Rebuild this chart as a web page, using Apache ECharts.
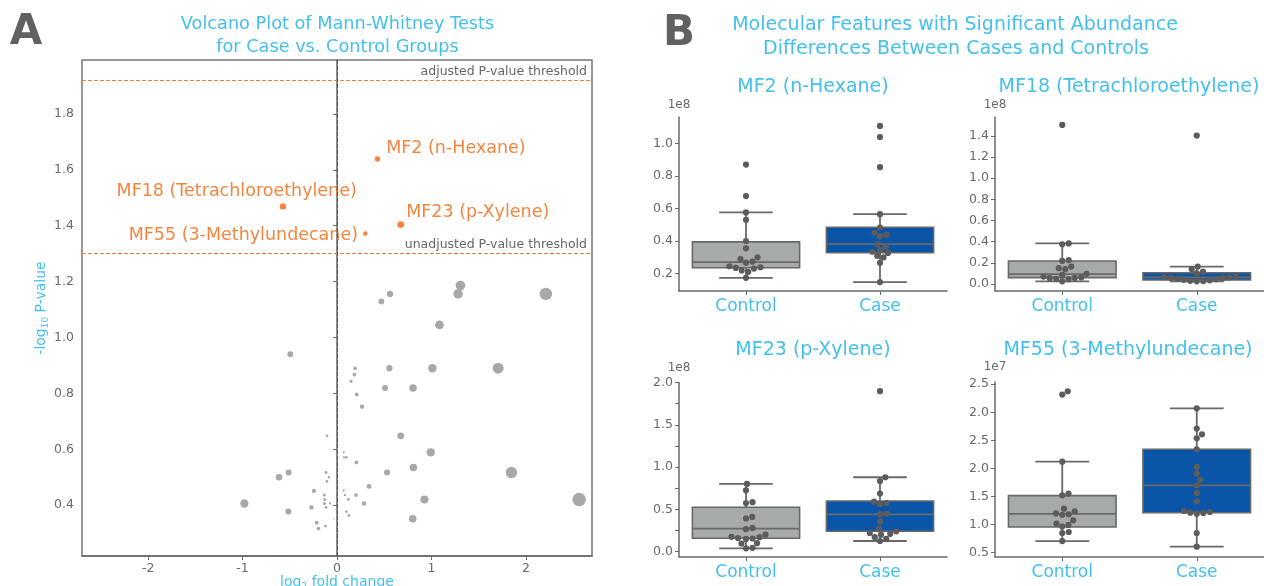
<!DOCTYPE html>
<html><head><meta charset="utf-8">
<script src="https://cdn.jsdelivr.net/npm/echarts@6/dist/echarts.min.js"></script>
<style>html,body{margin:0;padding:0;background:#fff}#c{width:1264px;height:586px}</style>
</head><body><div id="c"></div>
<script>
// ---------------- DATA ----------------
// Volcano plot: log2 fold change (x) and -log10 P-value (y)
const grayFC = [1.307,1.282,0.561,0.470,2.211,1.085,-0.494,0.191,0.184,0.148,0.555,1.010,1.706,0.509,0.805,0.209,0.265,0.675,-0.106,0.993,0.071,0.074,0.099,0.205,0.809,0.530,1.847,-0.512,-0.614,-0.116,-0.085,-0.106,0.339,-0.244,0.071,0.085,0.201,-0.134,-0.130,0.121,0.926,2.564,-0.981,-0.134,-0.074,0.286,-0.271,-0.116,-0.515,0.099,0.127,0.802,-0.028,-0.215,-0.123,-0.197,0.018];
const grayP  = [1.186,1.156,1.156,1.129,1.156,1.045,0.940,0.890,0.867,0.843,0.890,0.890,0.890,0.819,0.819,0.796,0.752,0.648,0.648,0.589,0.589,0.571,0.571,0.553,0.535,0.517,0.517,0.517,0.500,0.517,0.500,0.485,0.467,0.451,0.452,0.436,0.436,0.436,0.420,0.420,0.420,0.420,0.406,0.406,0.406,0.406,0.392,0.392,0.377,0.377,0.363,0.351,0.351,0.337,0.325,0.316,0.304];
const sigNames = ['MF2 (n-Hexane)','MF18 (Tetrachloroethylene)','MF23 (p-Xylene)','MF55 (3-Methylundecane)'];
const sigFC = [0.428,-0.572,0.675,0.300];
const sigP  = [1.639,1.469,1.404,1.372];
const pAdjThreshold = 1.92;
const pUnadjThreshold = 1.301;
const volcanoXTicks = [-2,-1,0,1,2];
const volcanoYTicks = [0.4,0.6,0.8,1.0,1.2,1.4,1.6,1.8];

// Box plots
const groups = ['Control','Case'];
// MF2 (x1e8)
const mf2Control = [0.871,0.677,0.577,0.531,0.401,0.356,0.301,0.290,0.275,0.268,0.246,0.240,0.236,0.232,0.220,0.212,0.175];
const mf2Case    = [1.108,1.040,0.855,0.566,0.484,0.452,0.440,0.430,0.382,0.366,0.345,0.335,0.328,0.310,0.300,0.267,0.149];
const mf2BoxControl = [0.175,0.237,0.272,0.396,0.577];
const mf2BoxCase    = [0.149,0.329,0.382,0.486,0.566];
const mf2Ticks = [0.2,0.4,0.6,0.8,1.0];
// MF18 (x1e8)
const mf18Control = [1.504,0.384,0.376,0.226,0.219,0.165,0.150,0.140,0.097,0.086,0.070,0.062,0.058,0.055,0.050,0.044,0.025];
const mf18Case    = [1.403,0.165,0.140,0.118,0.100,0.070,0.066,0.062,0.058,0.055,0.050,0.045,0.040,0.035,0.030,0.028,0.025];
const mf18BoxControl = [0.025,0.060,0.094,0.217,0.384];
const mf18BoxCase    = [0.025,0.038,0.063,0.107,0.164];
const mf18Ticks = [0.0,0.2,0.4,0.6,0.8,1.0,1.2,1.4];
// MF23 (x1e8)
const mf23Control = [0.800,0.725,0.585,0.575,0.410,0.392,0.280,0.265,0.200,0.175,0.170,0.160,0.155,0.150,0.100,0.095,0.045,0.039];
const mf23Case    = [1.897,0.879,0.835,0.686,0.590,0.575,0.560,0.450,0.440,0.355,0.272,0.240,0.220,0.210,0.200,0.170,0.150,0.125];
const mf23BoxControl = [0.039,0.158,0.272,0.525,0.800];
const mf23BoxCase    = [0.125,0.240,0.441,0.599,0.879];
const mf23Ticks = [0.0,0.5,1.0,1.5,2.0];
const mf23MinorTicks = [0.0,0.25,0.5,0.75,1.0,1.25,1.5,1.75,2.0];
// MF55 (x1e7) - values in axis units, tick labels as printed
const mf55Control = [3.375,3.315,2.119,1.548,1.518,1.280,1.230,1.195,1.180,1.170,1.071,1.012,0.990,0.960,0.863,0.845,0.702];
const mf55Case    = [3.071,2.708,2.607,2.536,2.339,2.024,1.905,1.792,1.696,1.560,1.411,1.238,1.220,1.208,1.200,1.190,0.845,0.601];
const mf55BoxControl = [0.702,0.952,1.185,1.512,2.119];
const mf55BoxCase    = [0.601,1.208,1.696,2.339,3.071];
const mf55Ticks = [0.5,1.0,1.5,2.0,2.5,3.0,3.5];
const mf55TickLabels = ['0.5','1.0','1.5','2.0','2.5','2.0','2.5'];

// ---------------- STYLE ----------------
const FONT = 'DejaVu Sans';
const BLUE_TXT = '#43c0ee';
const AXIS = '#666a6a';
const TICKTXT = '#666a6a';
const ORANGE = '#f2670e';
const THRESH = '#f07f3c';
const GRAYPT = '#a5a9a8';
const BOXGRAY = '#a6abaa';
const BOXBLUE = '#0b55a8';
const SWARM = '#5c5c5c';

const sigLabelLayout = [
  {position:'right', offset:[1,-10]},
  {position:'left', offset:[82,-15]},
  {position:'right', offset:[-3,-12]},
  {position:'left', offset:[0,2]}
];

const boxGrids = [
  {left:679, top:117, width:268, height:174, yMin:0.094, yMax:1.163},
  {left:995, top:117, width:269, height:174, yMin:-0.066, yMax:1.579},
  {left:679, top:382.5, width:268, height:174.5, yMin:-0.064, yMax:2.0},
  {left:995, top:382, width:269, height:175, yMin:0.417, yMax:3.54}
];

const chart = echarts.init(document.getElementById('c'), null, {renderer:'canvas'});

function fmtTick(v){ return (Math.round(v*10)/10).toFixed(1); }

function swarm(values, center, pxPerX, pxPerY, d){
  const order = values.map((v,i)=>i).sort((a,b)=>values[a]-values[b]);
  const placed = []; const out = [];
  order.forEach(i=>{
    const y = values[i]*pxPerY;
    let off = 0;
    for (let k=0;k<2000;k++){
      const o = (k%2 ? 1 : -1) * Math.ceil(k/2) * 0.25;
      if (placed.every(p => (p.x-o)*(p.x-o)+(p.y-y)*(p.y-y) >= d*d)) { off = o; break; }
    }
    placed.push({x:off, y:y});
    out.push([center + off/pxPerX, values[i]]);
  });
  return out;
}

function boxRender(params, api){
  const x = api.value(0);
  const v = [api.value(1),api.value(2),api.value(3),api.value(4),api.value(5)];
  const p = v.map(val => api.coord([x, val]));
  const band = api.size([1,0])[0];
  const bw = band*0.8, cw = band*0.4;
  const cx = p[0][0];
  const fill = x < 0.5 ? BOXGRAY : BOXBLUE;
  const ls = {stroke:AXIS, lineWidth:1.8};
  return {type:'group', children:[
    {type:'line', shape:{x1:cx,y1:p[3][1],x2:cx,y2:p[4][1]}, style:ls},
    {type:'line', shape:{x1:cx,y1:p[1][1],x2:cx,y2:p[0][1]}, style:ls},
    {type:'line', shape:{x1:cx-cw/2,y1:p[4][1],x2:cx+cw/2,y2:p[4][1]}, style:ls},
    {type:'line', shape:{x1:cx-cw/2,y1:p[0][1],x2:cx+cw/2,y2:p[0][1]}, style:ls},
    {type:'rect', shape:{x:cx-bw/2,y:p[3][1],width:bw,height:p[1][1]-p[3][1]}, style:{fill:fill, stroke:AXIS, lineWidth:1.6}},
    {type:'line', shape:{x1:cx-bw/2,y1:p[2][1],x2:cx+bw/2,y2:p[2][1]}, style:{stroke:AXIS, lineWidth:1.8}}
  ]};
}

const grids = [{left:82, top:60, width:510, height:496, show:true, borderColor:'#777', borderWidth:1.5, outerBoundsMode:'none', containLabel:false}];
boxGrids.forEach(g => grids.push({left:g.left, top:g.top, width:g.width, height:g.height, outerBoundsMode:'none', containLabel:false}));

const xAxes = [{
  gridIndex:0, type:'value', min:-2.7, max:2.7,
  axisLine:{show:true, onZero:false, lineStyle:{color:AXIS, width:1.5}},
  axisTick:{show:true, length:4, customValues:volcanoXTicks, lineStyle:{color:AXIS}},
  axisLabel:{customValues:volcanoXTicks, margin:6, color:TICKTXT, fontFamily:FONT, fontSize:12.5, formatter:v=>String(v)},
  splitLine:{show:false},
  name:'log{sub|2} fold change', nameLocation:'middle', nameGap:18, nameMoveOverlap:false,
  nameTextStyle:{color:BLUE_TXT, fontFamily:FONT, fontSize:14, rich:{sub:{fontSize:9, fontFamily:FONT, color:BLUE_TXT, padding:[8,0,0,0]}}}
}];
const yAxes = [{
  gridIndex:0, type:'value', min:0.218, max:1.993,
  axisLine:{show:true, lineStyle:{color:AXIS, width:1.5}},
  axisTick:{show:true, length:4, customValues:volcanoYTicks, lineStyle:{color:AXIS}},
  axisLabel:{customValues:volcanoYTicks, margin:8, color:TICKTXT, fontFamily:FONT, fontSize:12.5, formatter:fmtTick},
  splitLine:{show:false},
  name:'-log{sub|10} P-value', nameLocation:'middle', nameGap:32, nameMoveOverlap:false,
  nameTextStyle:{color:BLUE_TXT, fontFamily:FONT, fontSize:14, rich:{sub:{fontSize:9, fontFamily:FONT, color:BLUE_TXT, padding:[8,0,0,0]}}}
}];

const boxSpecs = [
  {ctrl:mf2Control, cas:mf2Case, bc:mf2BoxControl, bk:mf2BoxCase, ticks:mf2Ticks, minor:mf2Ticks, labels:null, exp:'1e8', gap:6},
  {ctrl:mf18Control, cas:mf18Case, bc:mf18BoxControl, bk:mf18BoxCase, ticks:mf18Ticks, minor:mf18Ticks, labels:null, exp:'1e8', gap:6},
  {ctrl:mf23Control, cas:mf23Case, bc:mf23BoxControl, bk:mf23BoxCase, ticks:mf23Ticks, minor:mf23MinorTicks, labels:null, exp:'1e8', gap:9},
  {ctrl:mf55Control, cas:mf55Case, bc:mf55BoxControl, bk:mf55BoxCase, ticks:mf55Ticks, minor:mf55Ticks, labels:mf55TickLabels, exp:'1e7', gap:9}
];

const series = [];
// volcano gray
series.push({
  type:'scatter', xAxisIndex:0, yAxisIndex:0, z:3,
  data: grayFC.map((x,i)=>[x, grayP[i]]),
  symbolSize: v => Math.max(1.2, 8.4*Math.sqrt(Math.abs(v[0]))),
  itemStyle:{color:GRAYPT, opacity:1},
  silent:true,
  markLine:{
    silent:true, symbol:'none', animation:false,
    data:[
      {yAxis:pAdjThreshold, lineStyle:{color:THRESH, type:[4,2], width:1.2},
        label:{formatter:'adjusted P-value threshold', position:'insideEndTop', distance:[5,2], color:'#666', fontFamily:FONT, fontSize:12.5}},
      {yAxis:pUnadjThreshold, lineStyle:{color:THRESH, type:[4,2], width:1.2},
        label:{formatter:'unadjusted P-value threshold', position:'insideEndTop', distance:[5,2], color:'#666', fontFamily:FONT, fontSize:12.5}},
      {xAxis:0, lineStyle:{color:'#555', type:[4,2], width:1}, label:{show:false}}
    ]
  }
});
// volcano significant
series.push({
  type:'scatter', xAxisIndex:0, yAxisIndex:0, z:4,
  data: sigFC.map((x,i)=>({value:[x, sigP[i]], name:sigNames[i],
    label:{show:true, formatter:sigNames[i], position:sigLabelLayout[i].position, offset:sigLabelLayout[i].offset,
      color:ORANGE, fontFamily:FONT, fontSize:17.5}})),
  symbolSize: v => 8.4*Math.sqrt(Math.abs(v[0])),
  itemStyle:{color:ORANGE},
  silent:true
});

boxSpecs.forEach((s, k) => {
  const gi = k+1; const g = boxGrids[k];
  const lbls = s.labels;
  xAxes.push({
    gridIndex:gi, type:'value', min:-0.5, max:1.5,
    axisLine:{show:true, onZero:false, lineStyle:{color:AXIS, width:1.5}},
    axisTick:{show:true, length:4, customValues:[0,1], lineStyle:{color:AXIS}},
    axisLabel:{customValues:[0,1], margin:7, color:BLUE_TXT, fontFamily:FONT, fontSize:17, formatter:v=>groups[Math.round(v)]},
    splitLine:{show:false}
  });
  yAxes.push({
    gridIndex:gi, type:'value', min:g.yMin, max:g.yMax,
    axisLine:{show:true, onZero:false, lineStyle:{color:AXIS, width:1.5}},
    axisTick:{show:true, length:4, customValues:s.minor, lineStyle:{color:AXIS}},
    axisLabel:{customValues:s.ticks, margin:6, color:TICKTXT, fontFamily:FONT, fontSize:12.5,
      formatter: v => lbls ? lbls[s.ticks.findIndex(t=>Math.abs(t-v)<1e-6)] : fmtTick(v)},
    splitLine:{show:false},
    name:s.exp, nameLocation:'end', nameGap:s.gap,
    nameTextStyle:{color:TICKTXT, fontFamily:FONT, fontSize:12, align:'center'}
  });
  series.push({
    type:'custom', xAxisIndex:gi, yAxisIndex:gi, z:2, silent:true, clip:false,
    renderItem: boxRender,
    encode:{x:0, y:[1,2,3,4,5]},
    data:[[0].concat(s.bc), [1].concat(s.bk)]
  });
  const pxX = g.width/2, pxY = g.height/(g.yMax-g.yMin);
  series.push({
    type:'scatter', xAxisIndex:gi, yAxisIndex:gi, z:5, silent:true,
    symbolSize:6.2, itemStyle:{color:SWARM, opacity:1},
    data: swarm(s.ctrl, 0, pxX, pxY, 6.4).concat(swarm(s.cas, 1, pxX, pxY, 6.4))
  });
});

function txt(x, y, text, size, color, weight){
  return {type:'text', x:x, y:y, silent:true,
    style:{text:text, fill:color, font:(weight||'normal')+' '+size+'px "'+FONT+'"', textAlign:'center', textVerticalAlign:'middle'}};
}

const graphics = [
  txt(26, 33, 'A', 42, '#5e6262', 'bold'),
  txt(679, 34, 'B', 42, '#5e6262', 'bold'),
  txt(337.5, 24, 'Volcano Plot of Mann-Whitney Tests', 17.7, BLUE_TXT),
  txt(337.5, 47, 'for Case vs. Control Groups', 17.7, BLUE_TXT),
  txt(955, 25, 'Molecular Features with Significant Abundance', 19, BLUE_TXT),
  txt(956, 49.5, 'Differences Between Cases and Controls', 19, BLUE_TXT),
  txt(813, 87, 'MF2 (n-Hexane)', 19, BLUE_TXT),
  txt(1129, 87, 'MF18 (Tetrachloroethylene)', 19, BLUE_TXT),
  txt(813, 350, 'MF23 (p-Xylene)', 19, BLUE_TXT),
  txt(1128, 350.5, 'MF55 (3-Methylundecane)', 19, BLUE_TXT)
];

chart.setOption({
  animation:false,
  backgroundColor:'#fff',
  textStyle:{fontFamily:FONT},
  grid:grids, xAxis:xAxes, yAxis:yAxes, series:series, graphic:graphics
});
</script></body></html>
